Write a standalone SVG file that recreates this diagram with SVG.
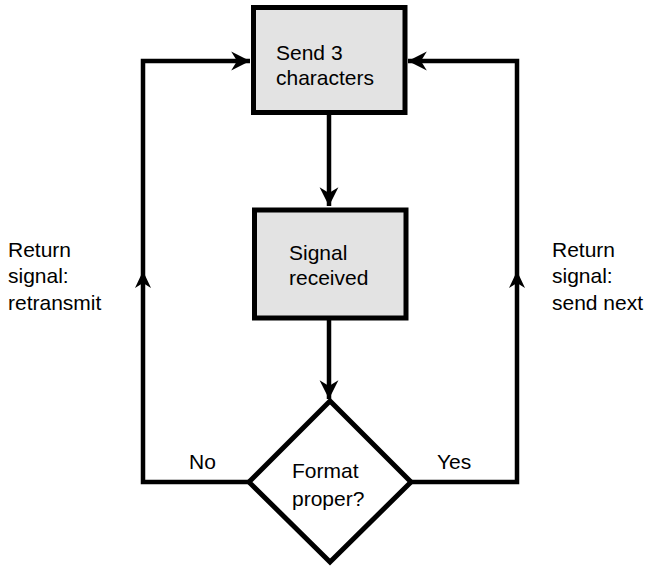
<svg xmlns="http://www.w3.org/2000/svg" width="647" height="566" viewBox="0 0 647 566">
<style>
.box{fill:#e3e3e3;stroke:#000;stroke-width:5}
.dia{fill:#fff;stroke:#000;stroke-width:5;stroke-linejoin:miter}
.ln{fill:none;stroke:#000;stroke-width:4.5}
text{font-family:"Liberation Sans",Arial,sans-serif;font-size:21px;fill:#000}
</style>
<defs>
<marker id="ah" markerUnits="userSpaceOnUse" markerWidth="20" markerHeight="20" viewBox="-16 -8 17 16" refX="0" refY="0" orient="auto">
<path d="M0,0 L-16,-8 L-11,0 L-16,8 Z" fill="#000"/>
</marker>
<path id="mid" d="M-16,-8 L0,0 L-16,8 L-11,0 Z" fill="#000"/>
</defs>
<g id="connectors">
<line class="ln" x1="329" y1="115" x2="329" y2="206" marker-end="url(#ah)"/>
<line class="ln" x1="329" y1="320" x2="329" y2="399" marker-end="url(#ah)"/>
<polyline class="ln" points="249,482 143,482 143,61 250,61" marker-end="url(#ah)"/>
<polyline class="ln" points="411,482 517,482 517,61 408,61" marker-end="url(#ah)"/>
<path d="M143,271 L135,288 L143,283 L151,288 Z" fill="#000"/>
<path d="M517,271 L509,288 L517,283 L525,288 Z" fill="#000"/>
</g>
<g id="send">
<rect class="box" x="253.5" y="7.5" width="151.5" height="105"/>
<text x="276" y="60">Send 3</text>
<text x="276" y="85">characters</text>
</g>
<g id="received">
<rect class="box" x="254.5" y="210" width="151.5" height="108"/>
<text x="289" y="260">Signal</text>
<text x="289" y="285">received</text>
</g>
<g id="format">
<polygon class="dia" points="330,401 411,482 330,562 249,482"/>
<text x="292" y="478">Format</text>
<text x="292" y="506">proper?</text>
</g>
<g id="labels">
<text x="189" y="469">No</text>
<text x="437" y="469">Yes</text>
<text x="8" y="257">Return</text>
<text x="8" y="283">signal:</text>
<text x="8" y="310">retransmit</text>
<text x="552" y="257">Return</text>
<text x="552" y="283">signal:</text>
<text x="552" y="310">send next</text>
</g>
</svg>
